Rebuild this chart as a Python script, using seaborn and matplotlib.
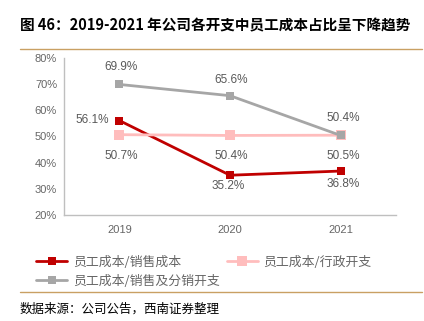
import matplotlib
matplotlib.use("Agg")
import matplotlib.pyplot as plt
import seaborn as sns
import pandas as pd
from matplotlib.lines import Line2D

years = ["2019", "2020", "2021"]
series_names = ["员工成本/销售成本", "员工成本/行政开支", "员工成本/销售及分销开支"]
sales_cost = [56.1, 35.2, 36.8]
admin_cost = [50.7, 50.4, 50.5]
distribution_cost = [69.9, 65.6, 50.4]
y_ticks = [20, 30, 40, 50, 60, 70, 80]

colors = ["#C00000", "#FFBDBD", "#A6A6A6"]
values = [sales_cost, admin_cost, distribution_cost]

rows = []
for name, vals in zip(series_names, values):
    for yr, v in zip(years, vals):
        rows.append({"year": yr, "value": v, "series": name})
df = pd.DataFrame(rows)

sns.set_style("white")
plt.rcParams['font.family'] = ['Noto Sans CJK SC', 'DejaVu Sans']

fig = plt.figure(figsize=(4.24, 3.21), dpi=100)
ax = fig.add_axes([64/424, 1-215/321, (396-64)/424, (215-58)/321])

palette = dict(zip(series_names, colors))
sns.lineplot(data=df, x="year", y="value", hue="series", palette=palette,
             style="series", markers={n: "s" for n in series_names},
             dashes=False, linewidth=2, markersize=6, markeredgewidth=0,
             ax=ax, legend=False, sort=False)
for line in ax.lines:
    if line.get_color().lower() == colors[1].lower():
        line.set_markersize(7)

ax.set_xlim(-0.5, 2.5)
ax.set_ylim(20, 80)
ax.set_yticks(y_ticks)
ax.set_yticklabels([f"{t}%" for t in y_ticks], fontsize=8, color="#666666",
                   fontfamily="Liberation Sans")
ax.set_xticks([0, 1, 2])
ax.set_xticklabels(years, fontsize=8, color="#666666", fontfamily="Liberation Sans")
ax.set_xticks([-0.5, 0.5, 1.5, 2.5], minor=True)
ax.tick_params(axis="x", which="major", length=0, pad=7)
ax.tick_params(axis="x", which="minor", length=3, color="#BFBFBF", width=1)
ax.tick_params(axis="y", length=3, color="#BFBFBF", width=1, pad=2)
ax.set_xlabel("")
ax.set_ylabel("")
for s in ["top", "right"]:
    ax.spines[s].set_visible(False)
for s in ["left", "bottom"]:
    ax.spines[s].set_color("#BFBFBF")
    ax.spines[s].set_linewidth(1)

lab_kw = dict(textcoords="offset pixels", fontsize=8.5, color="#595959",
              fontfamily="Liberation Sans", va="center")
offsets = {
    0: [(-10, 1, "right"), (-2, -11, "center"), (2, -13, "center")],
    1: [(2, -21, "center"), (1, -21, "center"), (3, -21, "center")],
    2: [(2, 17, "center"), (1, 16, "center"), (3, 17, "center")],
}
for si, vals in enumerate(values):
    for xi, v in enumerate(vals):
        dx, dy, ha = offsets[si][xi]
        ax.annotate(f"{v:.1f}%", (xi, v), xytext=(dx, dy), ha=ha, **lab_kw)

handles = [Line2D([0], [0], color=c, lw=2, marker="s", markersize=6 if i != 1 else 7,
                  markeredgewidth=0) for i, c in enumerate(colors)]
order = [0, 2, 1]
leg = fig.legend([handles[i] for i in order], [series_names[i] for i in order],
                 loc="upper left", bbox_to_anchor=(36/424, 1-256/321),
                 ncol=2, frameon=False, fontsize=9.3, handlelength=2.4, handletextpad=0.45,
                 columnspacing=0.55, labelspacing=0.45, borderpad=0, borderaxespad=0)
for t in leg.get_texts():
    t.set_color("#666666")

fig.text(20/424, 1-25/321, "图 46：2019-2021 年公司各开支中员工成本占比呈下降趋势",
         fontsize=10.5, fontweight="bold", color="black", va="center", ha="left")
gold = "#C9A063"
fig.add_artist(Line2D([20/424, 422/424], [1-49/321, 1-49/321], color=gold, lw=1))
fig.add_artist(Line2D([20/424, 422/424], [1-292/321, 1-292/321], color=gold, lw=1))
fig.text(20/424, 1-309/321, "数据来源：公司公告，西南证券整理", fontsize=9,
         fontstyle="italic", color="black", va="center", ha="left")

fig.savefig("out.png", dpi=100)
